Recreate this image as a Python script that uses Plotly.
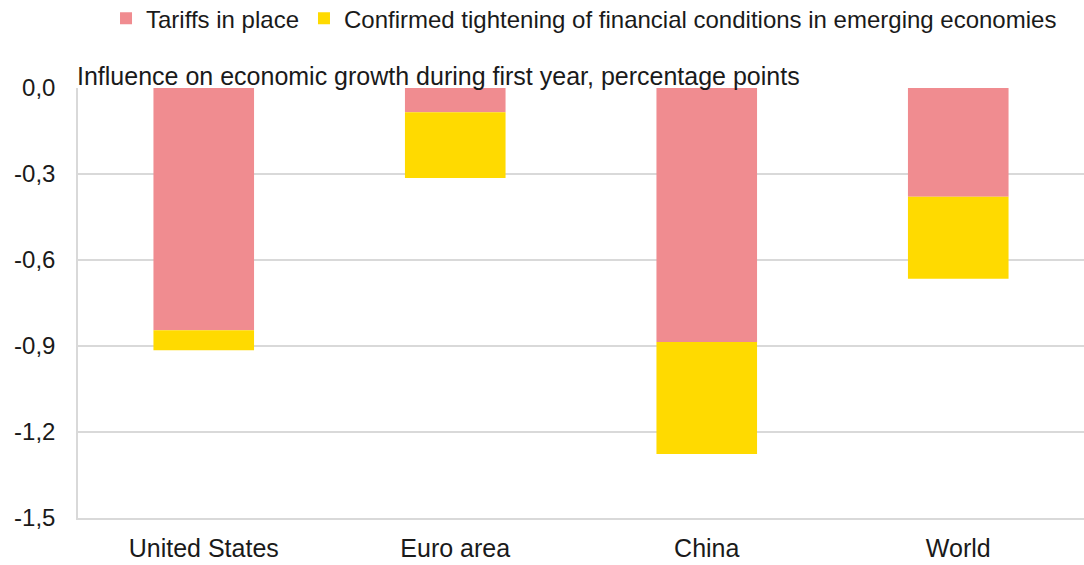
import plotly.graph_objects as go

categories = ["United States", "Euro area", "China", "World"]
tariffs = [-0.845, -0.085, -0.886, -0.379]
financial = [-0.07, -0.229, -0.391, -0.286]
tick_vals = [0.0, -0.3, -0.6, -0.9, -1.2, -1.5]
tick_text = ["0,0", "-0,3", "-0,6", "-0,9", "-1,2", "-1,5"]

fig = go.Figure()
fig.add_trace(go.Bar(x=categories, y=tariffs, name="Tariffs in place",
                     marker=dict(color="#F08C90", line=dict(width=0))))
fig.add_trace(go.Bar(x=categories, y=financial,
                     name="Confirmed tightening of financial conditions in emerging economies",
                     marker=dict(color="#FFDA00", line=dict(width=0))))

fig.update_layout(
    barmode="relative",
    bargap=0.6,
    separators=", ",
    width=1084, height=565,
    margin=dict(l=78, r=0, t=88, b=47, autoexpand=False),
    plot_bgcolor="white", paper_bgcolor="white",
    font=dict(family="Liberation Sans, Arial", size=24, color="#1a1a1a"),
    legend=dict(orientation="h", x=0.503, xanchor="center",
                yref="container", y=0.967, yanchor="middle",
                font=dict(size=24), itemwidth=30, traceorder="normal",
                bgcolor="rgba(0,0,0,0)", tracegroupgap=0),
    showlegend=True,
)
fig.update_yaxes(range=[-1.5, 0.0], tickvals=tick_vals, ticktext=tick_text,
                 showgrid=True, gridcolor="#D9D9D9", gridwidth=1.5,
                 zeroline=False, showline=True, linecolor="#D9D9D9", linewidth=1.5,
                 ticks="", tickfont=dict(size=24), automargin=False, ticklabelstandoff=16)
fig.update_xaxes(showline=True, linecolor="#D9D9D9", linewidth=1.5, ticks="",
                 tickfont=dict(size=25), automargin=False, ticklabelstandoff=7)
fig.add_annotation(text="Influence on economic growth during first year, percentage points",
                   xref="paper", yref="paper", x=0.0, y=1.0, xanchor="left", yanchor="bottom",
                   showarrow=False, font=dict(size=25, color="#1a1a1a"), yshift=-4, xshift=-3)

fig.write_html("out.html", config={"displayModeBar": False},
               post_script="document.body.style.margin='0';document.body.style.padding='0';")
